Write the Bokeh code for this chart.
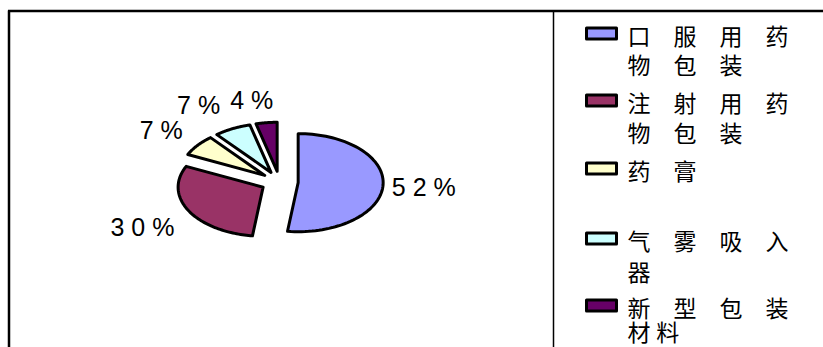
import numpy as np
from bokeh.plotting import figure
from bokeh.models import Range1d
from bokeh.core.properties import value
from bokeh.embed import file_html
from bokeh.resources import INLINE

# ---------------- data ----------------
categories = ["口服用药物包装", "注射用药物包装", "药膏", "气雾吸入器", "新型包装材料"]
values = [52, 30, 7, 7, 4]
labels = ["52%", "30%", "7%", "7%", "4%"]
colors = ["#9999FF", "#993366", "#FFFFCC", "#CCFFFF", "#660066"]
legend_lines = [["口服用药", "物包装"], ["注射用药", "物包装"], ["药膏"],
                ["气雾吸入", "器"], ["新型包装", "材料"]]

# ---------------- layout / style ----------------
W, H = 823, 347
CX, CY = 279.0, 181.5        # pie centre (px)
RX, RY = 85.0, 49.0          # ellipse radii (px)
EXPLODE = 0.22               # explosion, fraction of radius
LABEL_R = 1.76
label_nudge = [(-5, 0), (-6, 3), (0, 1), (-13, 0), (-9, 4)]
WIDE = "\u3000"
NARROW = "\u2005"
legend_spacing = [[WIDE, WIDE], [WIDE, WIDE], [WIDE], [WIDE, WIDE], [WIDE, NARROW]]
item_y = [34, 101, 169, 239, 306]
line_pitch = [29, 30, 0, 31, 24]
SW_X0, SW_X1 = 586, 616
TEXT_X = 627

p = figure(width=W, height=H, output_backend="svg", toolbar_location=None,
           x_range=Range1d(0, W), y_range=Range1d(H, 0), min_border=0)
p.axis.visible = False
p.grid.visible = False
p.outline_line_color = None
p.background_fill_color = "white"
p.border_fill_color = "white"

# frame lines
p.segment(x0=[7.5, 8.5, 553], y0=[10.5, 10, 10], x1=[W, 8.5, 553], y1=[10.5, H, H],
          line_color="black", line_width=[2.5, 2.5, 1.5])

# pie slices (elliptical, exploded), angles clockwise from 12 o'clock
vals = np.array(values, dtype=float)
frac = vals / vals.sum()
ends = 90.0 - 360.0 * np.cumsum(frac)
starts = np.concatenate([[90.0], ends[:-1]])
xs, ys, lx, ly = [], [], [], []
for i, (a0, a1) in enumerate(zip(starts, ends)):
    mid = np.radians((a0 + a1) / 2)
    vx = CX + EXPLODE * RX * np.cos(mid)
    vy = CY - EXPLODE * RY * np.sin(mid)
    t = np.radians(np.linspace(a0, a1, 80))
    xs.append(np.concatenate([[vx], vx + RX * np.cos(t)]).tolist())
    ys.append(np.concatenate([[vy], vy - RY * np.sin(t)]).tolist())
    lx.append(CX + LABEL_R * RX * np.cos(mid) + label_nudge[i][0])
    ly.append(CY - LABEL_R * RY * np.sin(mid) + label_nudge[i][1])

p.patches(xs=xs, ys=ys, fill_color=colors, line_color="black", line_width=3,
          line_join="round")

p.text(x=lx, y=ly, text=[" ".join(s) for s in labels], text_align="center",
       text_baseline="middle", text_font=value("Liberation Sans"),
       text_font_size="25px", text_color="black")

# legend
sw_y, tx, ty, tt = [], [], [], []
for i, lines in enumerate(legend_lines):
    sw_y.append(item_y[i] - 1)
    for j, line in enumerate(lines):
        tx.append(TEXT_X)
        ty.append(item_y[i] + j * line_pitch[i])
        tt.append(legend_spacing[i][j].join(line))

p.rect(x=[(SW_X0 + SW_X1) / 2] * len(colors), y=sw_y, width=SW_X1 - SW_X0, height=11,
       fill_color=colors, line_color="black", line_width=3, line_join="round")
p.text(x=tx, y=ty, text=tt, text_align="left", text_baseline="middle",
       text_font=value("Noto Sans CJK SC"), text_font_size="23px", text_color="black")

open("out.html", "w").write(file_html(p, INLINE))
